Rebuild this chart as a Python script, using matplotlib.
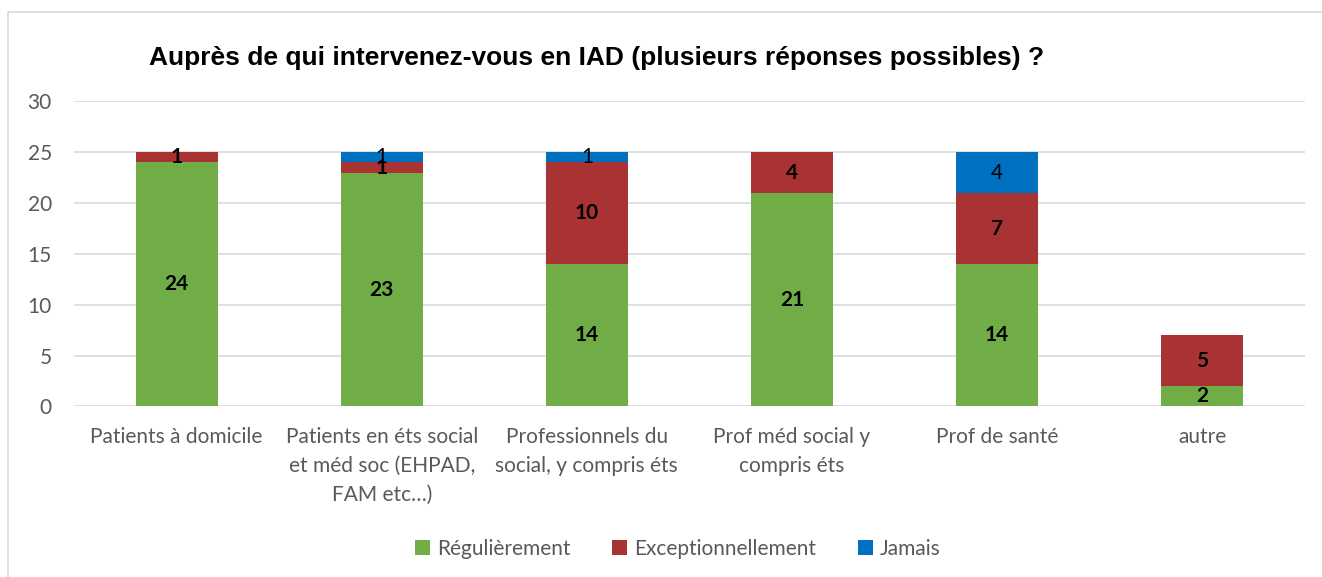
import numpy as np
import matplotlib
matplotlib.use("Agg")
from matplotlib import pyplot as plt
from matplotlib.patches import Rectangle

categories = [
    "Patients à domicile",
    "Patients en éts social\net méd soc (EHPAD,\nFAM etc…)",
    "Professionnels du\nsocial, y compris éts",
    "Prof méd social y\ncompris éts",
    "Prof de santé",
    "autre",
]
regulierement = [24, 23, 14, 21, 14, 2]
exceptionnellement = [1, 1, 10, 4, 7, 5]
jamais = [0, 1, 1, 0, 4, 0]

series_names = ["Régulièrement", "Exceptionnellement", "Jamais"]
colors = ["#70AD47", "#A93232", "#0070C0"]

title = "Auprès de qui intervenez-vous en IAD (plusieurs réponses possibles) ?"

plt.rcParams["font.family"] = ["Lato", "DejaVu Sans"]

fig = plt.figure(figsize=(13.22, 5.77), dpi=100)
ax = fig.add_axes([0.056, 0.2955, 0.931, 0.5286])

# outer chart border
fig.patches.append(Rectangle((8 / 1322, -0.1), 1.2, 1 - 12 / 577 + 0.1,
                             transform=fig.transFigure, fill=False,
                             edgecolor="#D9D9D9", linewidth=1.2))

x = np.arange(len(categories))
bottom = np.zeros(len(categories))
for name, vals, col in zip(series_names, [regulierement, exceptionnellement, jamais], colors):
    vals = np.array(vals, dtype=float)
    bars = ax.bar(x, vals, 0.4, bottom=bottom, color=col, label=name, zorder=3)
    for b, v, y0 in zip(bars, vals, bottom):
        if v > 0:
            ax.text(b.get_x() + b.get_width() / 2, y0 + v / 2, f"{int(v)}",
                    ha="center", va="center", fontsize=15,
                    fontweight="normal" if name == "Jamais" else "bold",
                    color="black", zorder=4)
    bottom += vals

ax.set_xlim(-0.5, len(categories) - 0.5)
ax.set_ylim(0, 30)
ax.set_yticks(range(0, 31, 5))
ax.set_xticks(x)
ax.set_xticklabels(categories, linespacing=1.55)
ax.yaxis.grid(True, color="#D9D9D9", linewidth=1.2, zorder=0)
ax.tick_params(axis="both", length=0, labelsize=15, labelcolor="#595959")
ax.tick_params(axis="y", pad=16)
ax.tick_params(axis="x", pad=15)
for s in ax.spines.values():
    s.set_visible(False)

fig.text(597 / 1322, 1 - 58 / 577, title, ha="center", va="center",
         fontsize=19, fontweight="bold", family=["Liberation Sans", "DejaVu Sans"])

fig.legend(loc="center", bbox_to_anchor=(678 / 1322, 1 - 549 / 577), ncol=3,
           frameon=False, fontsize=15, handlelength=0.7, handleheight=0.7,
           handletextpad=0.35, columnspacing=2.0, labelcolor="#595959")

fig.savefig("out.png", dpi=100)
